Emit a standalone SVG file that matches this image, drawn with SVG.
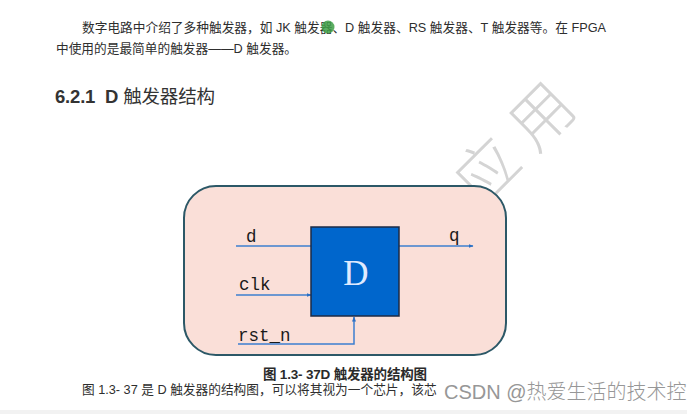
<svg xmlns="http://www.w3.org/2000/svg" width="687" height="414" viewBox="0 0 687 414">
  <style>
    .body { font-family: "Liberation Sans", "Noto Sans CJK SC", sans-serif; font-size: 12.7px; fill: #2e2e2e; }
    .sig { font-family: "Liberation Mono", "DejaVu Sans Mono", monospace; font-size: 17.5px; fill: #1a1a1a; }
    .wire { stroke: #3d7fcf; stroke-width: 1.5; fill: none; }
    .wm { font-family: "Noto Sans CJK SC", sans-serif; font-weight: 300; fill: #d4d4d4; }
  </style>
  <defs>
    <marker id="arr" viewBox="0 0 10 10" refX="9" refY="5" markerWidth="5" markerHeight="5" orient="auto" markerUnits="userSpaceOnUse">
      <path d="M0,1 L10,5 L0,9 Z" fill="#2a6fc4"/>
    </marker>
  </defs>
  <rect x="0" y="0" width="687" height="414" fill="#ffffff"/>

  <!-- watermark -->
  <text class="wm" font-size="62" letter-spacing="16" text-anchor="middle" transform="translate(520,138) rotate(-45)" y="22">应用</text>

  <!-- paragraph -->
  <text class="body" x="82" y="31.5" textLength="524" lengthAdjust="spacing">数字电路中介绍了多种触发器，如 JK 触发器、D 触发器、RS 触发器、T 触发器等。在 FPGA</text>
  <circle cx="328" cy="27" r="6.5" fill="#3f9f45" opacity="0.85"/>
  <text class="body" x="56" y="52.5">中使用的是最简单的触发器——D 触发器。</text>

  <!-- heading -->
  <text x="55" y="103" font-family="Liberation Sans, Noto Sans CJK SC, sans-serif" font-size="18.5" fill="#333333" textLength="160" lengthAdjust="spacing"><tspan font-weight="bold">6.2.1&#160; D&#160;</tspan>触发器结构</text>

  <!-- diagram -->
  <g id="frame">
    <rect x="184" y="186" width="322" height="169" rx="32" ry="32" fill="#fadfd8" stroke="#2c5867" stroke-width="2"/>
  </g>
  <g id="connectors">
    <line class="wire" x1="236" y1="246" x2="311" y2="246"/>
    <line class="wire" x1="399" y1="246" x2="473" y2="246" marker-end="url(#arr)"/>
    <line class="wire" x1="236" y1="295" x2="311" y2="295" marker-end="url(#arr)"/>
    <polyline class="wire" points="238,344 354,344 354,317" marker-end="url(#arr)"/>
  </g>
  <g id="dff">
    <rect x="311" y="227" width="88" height="89" fill="#0066cc" stroke="#1c2b45" stroke-width="1.5"/>
    <text x="356" y="285" text-anchor="middle" font-family="Liberation Serif, serif" font-size="35" fill="#dfeaff">D</text>
  </g>
  <g id="labels">
    <text class="sig" x="246" y="242">d</text>
    <text class="sig" x="449" y="241">q</text>
    <text class="sig" x="239" y="290">clk</text>
    <text class="sig" x="238" y="341">rst_n</text>
  </g>

  <!-- caption -->
  <text x="263" y="378.5" font-family="Liberation Sans, Noto Sans CJK SC, sans-serif" font-size="13.5" font-weight="600" fill="#2a2a2a" textLength="164" lengthAdjust="spacing">图 1.3- 37D 触发器的结构图</text>

  <!-- body line -->
  <text class="body" x="82" y="393.5" font-size="13">图 1.3- 37 是 D 触发器的结构图，可以将其视为一个芯片，该芯</text>
  <text x="444" y="399" font-family="Liberation Sans, Noto Sans CJK SC, sans-serif" font-size="20" font-weight="300" fill="#8c8c8c" opacity="0.9">CSDN @热爱生活的技术控</text>

  <rect x="0" y="410" width="687" height="4" fill="#f2f2f2"/>
</svg>
